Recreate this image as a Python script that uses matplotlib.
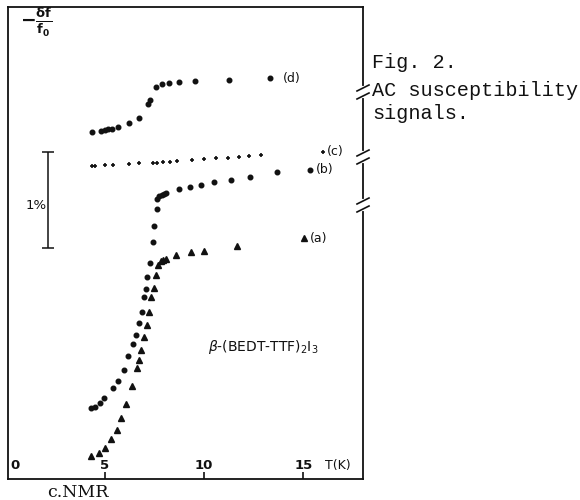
import matplotlib
matplotlib.use("Agg")
import matplotlib.pyplot as plt
from matplotlib.lines import Line2D

# ---------------- data (T in K, signal in % units) ----------------
d_T = [4.33, 4.79, 5.00, 5.17, 5.34, 5.67, 6.23, 6.73, 7.19, 7.27, 7.57, 7.89,
       8.23, 8.72, 9.56, 11.24, 13.31]
d_y = [3.53, 3.54, 3.55, 3.56, 3.56, 3.58, 3.63, 3.68, 3.82, 3.86, 3.99, 4.02,
       4.03, 4.04, 4.05, 4.06, 4.09]

c_T = [4.33, 4.50, 5.00, 5.39, 6.23, 6.72, 7.41, 7.61, 7.91, 8.28, 8.65, 9.37,
       9.99, 10.58, 11.18, 11.77, 12.27, 12.89, 16.01]
c_y = [3.19, 3.19, 3.20, 3.20, 3.21, 3.22, 3.22, 3.22, 3.23, 3.23, 3.24, 3.25,
       3.26, 3.27, 3.27, 3.28, 3.29, 3.30, 3.33]

b_T = [4.28, 4.52, 4.75, 4.96, 5.40, 5.64, 5.96, 6.16, 6.42, 6.56, 6.71, 6.87,
       6.98, 7.09, 7.12, 7.26, 7.44, 7.46, 7.60, 7.62, 7.73, 7.86, 7.98, 8.08,
       8.74, 9.29, 9.83, 10.51, 11.34, 12.32, 13.66, 15.34]
b_y = [0.71, 0.73, 0.77, 0.82, 0.92, 0.99, 1.10, 1.25, 1.37, 1.46, 1.58, 1.70,
       1.85, 1.93, 2.05, 2.20, 2.41, 2.57, 2.75, 2.85, 2.88, 2.89, 2.90, 2.91,
       2.95, 2.97, 2.99, 3.02, 3.04, 3.07, 3.12, 3.15]

a_T = [4.29, 4.71, 5.01, 5.32, 5.59, 5.79, 6.05, 6.38, 6.63, 6.73, 6.83, 6.98,
       7.10, 7.23, 7.34, 7.49, 7.56, 7.69, 7.84, 7.94, 8.08, 8.56, 9.36, 9.97,
       11.64, 15.04]
a_y = [0.22, 0.26, 0.31, 0.40, 0.49, 0.61, 0.76, 0.94, 1.12, 1.21, 1.31, 1.44,
       1.56, 1.70, 1.85, 1.94, 2.07, 2.18, 2.22, 2.23, 2.24, 2.28, 2.31, 2.32,
       2.37, 2.45]

x_ticks = [5, 10, 15]
x_tick_labels = ["0", "5", "10", "15"]
x_tick_label_pos = [0.46, 5, 10, 15]
series_labels = ["(d)", "(c)", "(b)", "(a)"]

# ---------------- figure ----------------
W, H = 580, 500
fig = plt.figure(figsize=(W / 100, H / 100), dpi=100)
ax = fig.add_axes([8 / W, 21 / H, 355 / W, 472 / H])
ax.set_xlim(0.11, 18.01)
ax.set_ylim(-0.01, 4.81)

ink = "#111111"
for s in ax.spines.values():
    s.set_linewidth(1.3)
    s.set_color(ink)

ax.plot(d_T, d_y, "o", ms=3.3, color=ink, ls="none")
ax.plot(c_T, c_y, "+", ms=3.4, mew=1.2, color=ink, ls="none")
ax.plot(b_T, b_y, "o", ms=3.3, color=ink, ls="none")
ax.plot(a_T, a_y, "^", ms=3.8, color=ink, ls="none")

# ticks (inward, labels inside)
ax.set_xticks(x_ticks)
ax.set_xticklabels([])
ax.set_yticks([])
ax.tick_params(axis="x", direction="in", length=5, width=1.2, color=ink)
for lab, pos in zip(x_tick_labels, x_tick_label_pos):
    ax.text(pos, 0.06, lab, ha="center", va="bottom", fontsize=9.5,
            fontweight="bold", color=ink)
ax.text(16.75, 0.06, "T(K)", ha="center", va="bottom", fontsize=9, color=ink)

# series labels
lab_pos = [(13.98, 4.08), (16.2, 3.33), (15.64, 3.15), (15.34, 2.45)]
for lab, (tx, ty) in zip(series_labels, lab_pos):
    ax.text(tx, ty, lab, ha="left", va="center", fontsize=9, color=ink)

# 1% scale bar
ax.errorbar([2.13], [2.84], yerr=[0.49], fmt="none", ecolor=ink,
            elinewidth=1.1, capsize=4, capthick=1.1)
ax.text(2.05, 2.78, "1%", ha="right", va="center", fontsize=9.5, color=ink)

# compound name
ax.text(10.2, 1.34, r"$\beta$-(BEDT-TTF)$_2$I$_3$", ha="left", va="center",
        fontsize=10, color=ink)

# y label at top-left
ax.text(28 / 355, 1 - 15 / 472, r"$\mathbf{-\frac{\delta f}{f_0}}$",
        transform=ax.transAxes, ha="center", va="center", fontsize=13.5, color=ink)


def P(x, y):
    return (x / W, 1 - y / H)


# break marks on right spine
for yb in [92, 157, 205]:
    fig.lines.append(Line2D(*zip(P(363, yb - 4), P(363, yb + 4)), color="white",
                            lw=3, transform=fig.transFigure, zorder=5))
    for dy in (-4, 4):
        fig.lines.append(Line2D(*zip(P(357, yb + dy + 3), P(369, yb + dy - 3)),
                                color=ink, lw=1.2, transform=fig.transFigure,
                                zorder=6))

# caption text on the right
mono = "Liberation Mono"
fig.text(372 / W, 1 - 68 / H, "Fig. 2.", family=mono, fontsize=14.5,
         va="baseline", ha="left", color=ink)
fig.text(372 / W, 1 - 96 / H, "AC susceptibility", family=mono, fontsize=14.5,
         va="baseline", ha="left", color=ink)
fig.text(372 / W, 1 - 119 / H, "signals.", family=mono, fontsize=14.5,
         va="baseline", ha="left", color=ink)

# below axes
fig.text(47 / W, 1 - 497 / H, "c.NMR", family="DejaVu Serif", fontsize=12.5,
         va="baseline", ha="left", color=ink)

fig.savefig("out.png", dpi=100, facecolor="white")
